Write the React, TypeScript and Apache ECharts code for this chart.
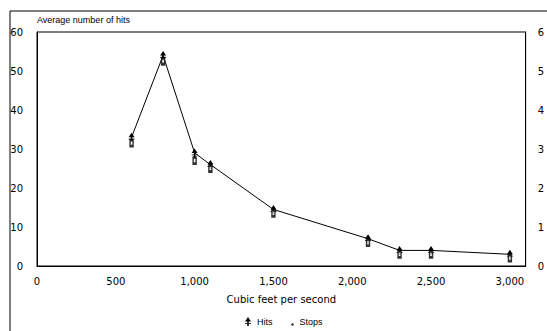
import React, { useEffect, useRef } from "react";
import * as echarts from "echarts";

const flows = [600, 800, 1000, 1100, 1500, 2100, 2300, 2500, 3000];
const hits = [33, 54, 29, 26, 14.5, 7, 4, 4, 3];
const stops = [31.5, 52.5, 27, 25, 13.5, 6, 3, 3, 2];
const yTicks = [0, 10, 20, 30, 40, 50, 60];

const FONT = "'DejaVu Sans', Arial, sans-serif";
const TITLE_FONT = "'Liberation Sans', Arial, sans-serif";
const HIT_SYMBOL = "path://M5,0 L9,6 L6,6 L6,12 L4,12 L4,6 L1,6 Z M1,8 L9,8 L9,9 L1,9 Z";
const DOT_ICON =
  "image://data:image/svg+xml;utf8," +
  encodeURIComponent(
    '<svg xmlns="http://www.w3.org/2000/svg" width="8" height="9"><circle cx="6" cy="7.5" r="1.2" fill="#000"/></svg>'
  );

export default function App() {
  const ref = useRef<HTMLDivElement>(null);
  useEffect(() => {
    if (!ref.current) return;
    const chart = echarts.init(ref.current, null, { renderer: "svg" });
    chart.setOption({
      animation: false,
      backgroundColor: "#ffffff",
      textStyle: { fontFamily: FONT, color: "#000" },
      grid: {
        left: 37,
        right: 18,
        top: 32,
        bottom: 65,
        show: true,
        borderColor: "#000",
        borderWidth: 1,
      },
      legend: {
        bottom: 0,
        left: 240,
        itemGap: 14,
        itemWidth: 8,
        itemHeight: 9,
        textStyle: { fontFamily: TITLE_FONT, fontSize: 9, color: "#000" },
        data: [
          { name: "Hits", icon: HIT_SYMBOL },
          { name: "Stops", icon: DOT_ICON },
        ],
      },
      graphic: [
        { type: "line", shape: { x1: 10, y1: 11, x2: 547, y2: 11 }, style: { stroke: "#000", lineWidth: 1 } },
        { type: "line", shape: { x1: 10, y1: 11, x2: 10, y2: 331 }, style: { stroke: "#000", lineWidth: 1 } },
        {
          type: "text",
          left: 37,
          top: 15,
          style: { text: "Average number of hits", font: `9px ${TITLE_FONT}`, fill: "#000" },
        },
      ],
      xAxis: {
        type: "value",
        min: 0,
        max: 3100,
        interval: 500,
        name: "Cubic feet per second",
        nameLocation: "middle",
        nameGap: 28,
        nameTextStyle: { fontFamily: FONT, fontSize: 10, color: "#000" },
        axisLine: { show: true, lineStyle: { color: "#000" } },
        axisTick: { show: false },
        splitLine: { show: false },
        axisLabel: {
          margin: 10,
          fontSize: 10,
          color: "#000",
          fontFamily: FONT,
          showMaxLabel: false,
          formatter: (v: number) => v.toLocaleString("en-US"),
        },
      },
      yAxis: [
        {
          type: "value",
          min: 0,
          max: 60,
          interval: 10,
          axisLine: { show: true, lineStyle: { color: "#000" } },
          axisTick: { show: false },
          splitLine: { show: false },
          axisLabel: {
            margin: 14,
            fontSize: 10,
            color: "#000",
            fontFamily: FONT,
            formatter: (v: number) => (yTicks.includes(v) ? String(v) : ""),
          },
        },
        {
          type: "value",
          position: "right",
          min: 0,
          max: 60,
          interval: 10,
          axisLine: { show: true, lineStyle: { color: "#000" } },
          axisTick: { show: false },
          splitLine: { show: false },
          axisLabel: {
            margin: 12,
            fontSize: 10,
            color: "#000",
            fontFamily: FONT,
            formatter: (v: number) => String(v / 10),
          },
        },
      ],
      series: [
        {
          name: "Hits",
          type: "line",
          data: flows.map((f, i) => [f, hits[i]]),
          symbol: HIT_SYMBOL,
          symbolSize: [6, 9],
          lineStyle: { color: "#000", width: 1 },
          itemStyle: { color: "#000" },
          z: 3,
        },
        {
          name: "Stops",
          type: "scatter",
          data: flows.map((f, i) => [f, stops[i]]),
          symbol: "emptyRect",
          symbolSize: [3, 6],
          itemStyle: { color: "#000", borderColor: "#000", borderWidth: 1 },
          z: 4,
        },
      ],
    });
    return () => chart.dispose();
  }, []);
  return (
    <div
      ref={ref}
      style={{ position: "fixed", left: 0, top: 0, width: 547, height: 331 }}
    />
  );
}
